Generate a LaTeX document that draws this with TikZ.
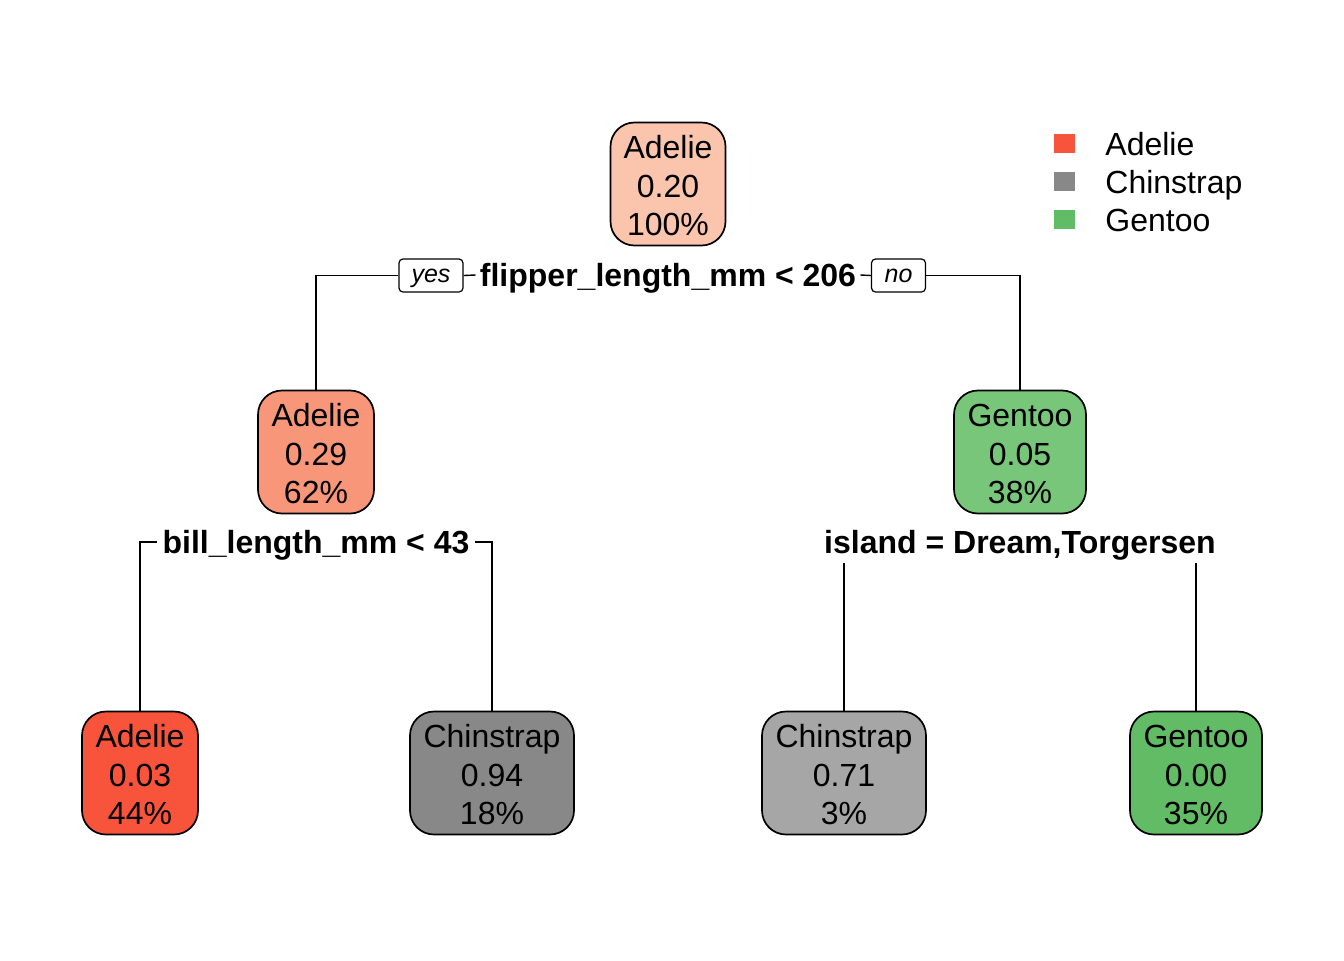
\documentclass[tikz,border=0pt]{standalone}
\usepackage{fontspec}
\setmainfont{Liberation Sans}
\definecolor{cAdeRoot}{RGB}{251,196,173}
\definecolor{cAdeMid}{RGB}{248,150,122}
\definecolor{cAdeLeaf}{RGB}{247,84,59}
\definecolor{cChiDark}{RGB}{136,136,136}
\definecolor{cChiLight}{RGB}{166,166,166}
\definecolor{cGenMid}{RGB}{120,198,121}
\definecolor{cGenLeaf}{RGB}{98,187,101}
\newcommand\tbtext[3]{\raisebox{-2.8pt}[\height][\depth]{\begin{tabular}{@{}c@{}}#1\\#2\\#3\end{tabular}}}
\tikzset{
  treebox/.style={draw=black, line width=0.85pt, rounded corners=12pt, align=center,
    inner sep=0pt, minimum height=61.5pt,
    font=\fontsize{16}{19.25}\selectfont},
  splitlab/.style={font=\fontsize{16}{19.25}\selectfont\bfseries, inner ysep=0pt, inner xsep=2pt, text depth=0pt},
  yesno/.style={draw=black, line width=0.6pt, rounded corners=2pt, inner sep=0pt,
    text height=6.5pt, text depth=0pt,
    minimum width=32pt, minimum height=16.5pt, font=\fontsize{12.5}{14}\selectfont\itshape},
  conn/.style={line width=0.7pt},
  legsq/.style={inner sep=0pt, minimum width=10.5pt, minimum height=9.5pt},
  legtxt/.style={anchor=base west, inner sep=0pt, font=\fontsize{16}{19.25}\selectfont}
}
\begin{document}
\begin{tikzpicture}[x=0.5pt, y=-0.5pt]
\useasboundingbox (0,0) rectangle (1344,960);
\fill[white] (0,0) rectangle (1344,960);
% nodes
\node[treebox, fill=cAdeRoot, minimum width=57.5pt] (root) at (668,184) {\tbtext{Adelie}{0.20}{100\%}};
\node[treebox, fill=cAdeMid, minimum width=58pt] (n2) at (316,452) {\tbtext{Adelie}{0.29}{62\%}};
\node[treebox, fill=cGenMid, minimum width=66pt] (n3) at (1020,452) {\tbtext{Gentoo}{0.05}{38\%}};
\node[treebox, fill=cAdeLeaf, minimum width=58pt] (l4) at (140,773) {\tbtext{Adelie}{0.03}{44\%}};
\node[treebox, fill=cChiDark, minimum width=82pt] (l5) at (492,773) {\tbtext{Chinstrap}{0.94}{18\%}};
\node[treebox, fill=cChiLight, minimum width=82pt] (l6) at (844,773) {\tbtext{Chinstrap}{0.71}{3\%}};
\node[treebox, fill=cGenLeaf, minimum width=66pt] (l7) at (1196,773) {\tbtext{Gentoo}{0.00}{35\%}};
% split labels
\node[splitlab] (s1) at (668,275) {flipper\_length\_mm < 206};
\node[yesno] (yes) at (431,275.5) {yes};
\node[yesno, minimum width=27pt] (no) at (898.5,275.5) {no};
\node[splitlab, inner xsep=2.5pt] (s2) at (316,542) {bill\_length\_mm < 43};
\node[splitlab] (s3) at (1020,542) {island = Dream,Torgersen};
\coordinate (c6) at (844,563);
\coordinate (c7) at (1196,563);
% connectors
\draw[conn] (n2.north) |- (yes.west);
\draw[conn] (yes.east) -- (s1.west);
\draw[conn] (s1.east) -- (no.west);
\draw[conn] (no.east) -| (n3.north);
\draw[conn] (s2.west) -| (l4.north);
\draw[conn] (s2.east) -| (l5.north);
\draw[conn] (c6) -- (l6.north);
\draw[conn] (c7) -- (l7.north);
% legend
\node[legsq, fill=cAdeLeaf] (lgA) at (1064.5,143.5) {};
\node[legsq, fill=cChiDark] (lgC) at (1064.5,181.5) {};
\node[legsq, fill=cGenLeaf] (lgG) at (1064.5,219.5) {};
\node[legtxt] (ltA) at (1105,155.5) {Adelie};
\node[legtxt] (ltC) at (1105,193.5) {Chinstrap};
\node[legtxt] (ltG) at (1105,231.5) {Gentoo};
\end{tikzpicture}
\end{document}
